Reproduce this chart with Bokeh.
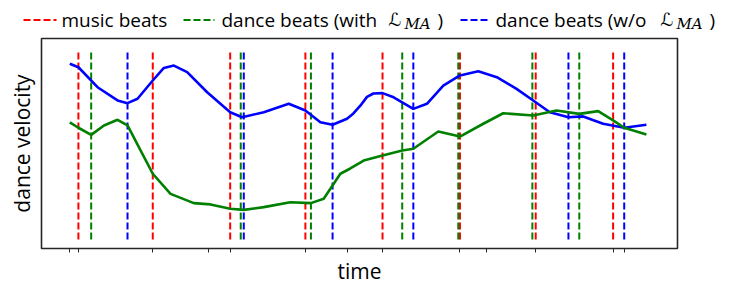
from bokeh.plotting import figure
from bokeh.layouts import column
from bokeh.models import Range1d, FixedTicker, CustomJSTickFormatter
from bokeh.core.properties import value
from bokeh.embed import file_html
from bokeh.resources import INLINE

# ---------------- data ----------------
music_beats = [3.1, 29.9, 57.8, 84.9, 112.7, 140.6, 167.9, 195.8]
dance_beats_with = [7.7, 61.6, 86.9, 119.8, 140.0, 166.7, 183.6]
dance_beats_wo = [20.8, 62.7, 94.7, 123.8, 179.7, 199.8]

blue_t = [0, 3.1, 10.0, 17.2, 20.8, 24.4, 29.9, 33.9, 37.5, 42.3, 49.5, 57.8, 62.1,
          69.9, 78.9, 84.9, 90.3, 94.7, 99.9, 102.2, 104.7, 107.1, 109.4, 112.7,
          116.7, 123.8, 128.7, 134.6, 140.6, 147.2, 153.9, 161.0, 167.0, 173.0,
          179.7, 185.0, 192.2, 199.8, 207.8]
blue_v = [0.880, 0.863, 0.768, 0.705, 0.692, 0.713, 0.800, 0.860, 0.871, 0.840,
          0.744, 0.649, 0.625, 0.649, 0.689, 0.657, 0.601, 0.589, 0.618, 0.643,
          0.680, 0.722, 0.738, 0.740, 0.720, 0.665, 0.689, 0.776, 0.824, 0.844,
          0.816, 0.760, 0.705, 0.649, 0.625, 0.629, 0.594, 0.575, 0.589]

green_t = [0, 3.1, 7.7, 12.3, 17.2, 20.8, 25.5, 29.9, 36.3, 44.7, 50.7, 57.8, 62.7,
           69.9, 79.5, 86.9, 91.5, 97.5, 101.1, 105.9, 112.7, 119.8, 123.8, 132.8,
           140.6, 149.0, 156.2, 167.0, 175.4, 183.6, 190.4, 195.8, 199.8, 207.8]
green_v = [0.601, 0.575, 0.541, 0.586, 0.613, 0.586, 0.467, 0.356, 0.260, 0.216,
           0.210, 0.189, 0.184, 0.197, 0.220, 0.216, 0.237, 0.356, 0.381, 0.419,
           0.443, 0.467, 0.475, 0.557, 0.533, 0.594, 0.644, 0.633, 0.657, 0.641,
           0.654, 0.610, 0.575, 0.543]

time_ticks = [0, 50, 100, 150, 200]

legend_labels = ["music beats", "dance beats (with", "dance beats (w/o"]

RED, GREEN, BLUE = "#ff0000", "#008000", "#0000ff"
FONT = "Open Sans"

# ---------------- legend strip ----------------
W = 731
LH = 36
lg = figure(frame_width=W, frame_height=LH, min_border=0, frame_align=False,
            x_range=Range1d(0, W), y_range=Range1d(0, LH),
            output_backend="svg", toolbar_location=None)
lg.axis.visible = False
lg.grid.visible = False
lg.outline_line_color = None
ly = LH - 19.5

dash_x0 = [23, 183, 460]
dash_x1 = [56, 214, 490]
text_x = [61, 221, 495]
colors = [RED, GREEN, BLUE]
lg.segment(x0=dash_x0, y0=[ly] * 3, x1=dash_x1, y1=[ly] * 3,
           line_color=colors, line_width=2, line_dash="7 3")
lg.text(x=text_x, y=[ly] * 3, text=legend_labels, text_font=value(FONT),
        text_font_size="19px", text_baseline="middle", text_align="left",
        text_color="black")
lg.text(x=[388, 660], y=[ly + 0.5] * 2, text=["ℒ", "ℒ"], text_font=value("DejaVu Sans"),
        text_font_size="18px", text_baseline="middle", text_align="left",
        text_color="black")
lg.text(x=[404, 676], y=[ly - 4] * 2, text=["MA", "MA"], text_font=value("DejaVu Serif"),
        text_font_size="15px", text_font_style="italic", text_baseline="middle",
        text_align="left", text_color="black")
lg.text(x=[437, 709], y=[ly] * 2, text=[")", ")"], text_font=value(FONT),
        text_font_size="19px", text_baseline="middle", text_align="left",
        text_color="black")

# ---------------- main plot ----------------
p = figure(frame_width=636, frame_height=210, frame_align=False,
           min_border_left=41, min_border_right=54, min_border_top=2, min_border_bottom=48,
           x_range=Range1d(-10.2, 219.0), y_range=Range1d(0, 1),
           output_backend="svg", toolbar_location=None)

p.xgrid.visible = False
p.ygrid.visible = False
p.outline_line_color = "#262626"
p.outline_line_width = 1.6

p.xaxis.ticker = FixedTicker(ticks=time_ticks + music_beats)
p.xaxis.formatter = CustomJSTickFormatter(code="return ''")
p.xaxis.major_tick_out = 4
p.xaxis.major_tick_in = 0
p.xaxis.minor_tick_out = 0
p.xaxis.major_tick_line_color = "#262626"
p.xaxis.axis_line_color = None
p.xaxis.axis_label = "time"
p.xaxis.axis_label_text_font = FONT
p.xaxis.axis_label_text_font_size = "21px"
p.xaxis.axis_label_text_font_style = "normal"
p.xaxis.axis_label_text_color = "black"
p.xaxis.axis_label_standoff = 4

p.yaxis.ticker = FixedTicker(ticks=[])
p.yaxis.axis_line_color = None
p.yaxis.major_tick_out = 0
p.yaxis.minor_tick_out = 0
p.yaxis.axis_label = "dance velocity"
p.yaxis.axis_label_text_font = FONT
p.yaxis.axis_label_text_font_size = "21px"
p.yaxis.axis_label_text_font_style = "normal"
p.yaxis.axis_label_text_color = "black"
p.yaxis.axis_label_standoff = 6

y0, y1 = 0.043, 0.948
for beats, col in ((music_beats, RED), (dance_beats_with, GREEN), (dance_beats_wo, BLUE)):
    p.segment(x0=beats, y0=[y0] * len(beats), x1=beats, y1=[y1] * len(beats),
              line_color=col, line_width=2, line_dash="7 3")

p.line(blue_t, blue_v, line_color=BLUE, line_width=2.6)
p.line(green_t, green_v, line_color=GREEN, line_width=2.6)

layout = column(lg, p, spacing=0)
open("out.html", "w").write(file_html(layout, INLINE))
